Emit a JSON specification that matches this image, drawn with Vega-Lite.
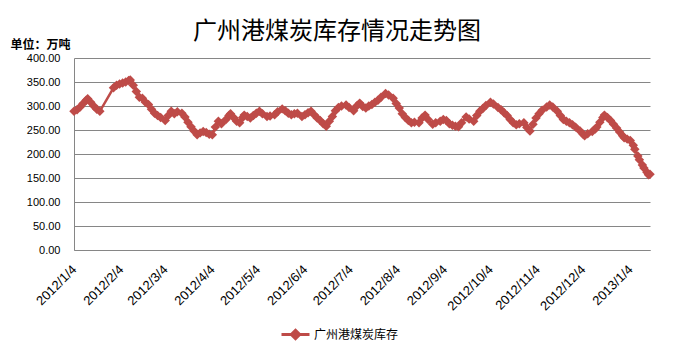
{
  "$schema": "https://vega.github.io/schema/vega-lite/v6.json",
  "autosize": {"type": "none"},
  "padding": {"left": 74, "top": 58, "right": 25, "bottom": 104},
  "width": 576,
  "height": 192,
  "background": "white",
  "title": {
    "text": "广州港煤炭库存情况走势图",
    "font": "Noto Sans CJK SC",
    "fontSize": 24,
    "fontWeight": "normal",
    "color": "black",
    "anchor": "middle",
    "frame": "group",
    "baseline": "middle",
    "offset": 8,
    "dx": -25,
    "dy": 26
  },
  "config": {
    "view": {"stroke": null},
    "axis": {
      "labelFont": "Liberation Sans",
      "labelFontSize": 11,
      "labelColor": "black",
      "domainColor": "#868686",
      "gridColor": "#868686",
      "ticks": false
    }
  },
  "data": {
    "values": [
      {"date": "2012/1/4", "v": 289}, {"date": "2012/1/6", "v": 292}, {"date": "2012/1/8", "v": 298}, {"date": "2012/1/10", "v": 305},
      {"date": "2012/1/12", "v": 312}, {"date": "2012/1/13", "v": 315}, {"date": "2012/1/15", "v": 308}, {"date": "2012/1/17", "v": 300},
      {"date": "2012/1/19", "v": 293}, {"date": "2012/1/21", "v": 289},
      {"date": "2012/1/30", "v": 338}, {"date": "2012/2/1", "v": 343}, {"date": "2012/2/3", "v": 346}, {"date": "2012/2/5", "v": 348},
      {"date": "2012/2/7", "v": 350}, {"date": "2012/2/9", "v": 353}, {"date": "2012/2/10", "v": 354}, {"date": "2012/2/12", "v": 343},
      {"date": "2012/2/14", "v": 330}, {"date": "2012/2/16", "v": 318}, {"date": "2012/2/18", "v": 316}, {"date": "2012/2/20", "v": 308},
      {"date": "2012/2/22", "v": 303}, {"date": "2012/2/24", "v": 293}, {"date": "2012/2/26", "v": 285}, {"date": "2012/2/28", "v": 280},
      {"date": "2012/3/1", "v": 276}, {"date": "2012/3/4", "v": 270}, {"date": "2012/3/6", "v": 280}, {"date": "2012/3/8", "v": 289},
      {"date": "2012/3/10", "v": 284}, {"date": "2012/3/12", "v": 288}, {"date": "2012/3/15", "v": 285}, {"date": "2012/3/17", "v": 277},
      {"date": "2012/3/19", "v": 266}, {"date": "2012/3/21", "v": 257}, {"date": "2012/3/23", "v": 248}, {"date": "2012/3/25", "v": 240},
      {"date": "2012/3/27", "v": 244}, {"date": "2012/3/29", "v": 247}, {"date": "2012/3/31", "v": 245}, {"date": "2012/4/2", "v": 241},
      {"date": "2012/4/4", "v": 240}, {"date": "2012/4/6", "v": 256}, {"date": "2012/4/8", "v": 268}, {"date": "2012/4/10", "v": 263},
      {"date": "2012/4/13", "v": 272}, {"date": "2012/4/15", "v": 280}, {"date": "2012/4/16", "v": 284}, {"date": "2012/4/18", "v": 276},
      {"date": "2012/4/20", "v": 268}, {"date": "2012/4/22", "v": 265}, {"date": "2012/4/24", "v": 276}, {"date": "2012/4/25", "v": 281},
      {"date": "2012/4/27", "v": 278}, {"date": "2012/4/29", "v": 275}, {"date": "2012/5/1", "v": 280}, {"date": "2012/5/3", "v": 285},
      {"date": "2012/5/5", "v": 289}, {"date": "2012/5/7", "v": 284}, {"date": "2012/5/10", "v": 278}, {"date": "2012/5/12", "v": 279},
      {"date": "2012/5/15", "v": 282}, {"date": "2012/5/17", "v": 288}, {"date": "2012/5/20", "v": 294}, {"date": "2012/5/22", "v": 290},
      {"date": "2012/5/24", "v": 285}, {"date": "2012/5/26", "v": 282}, {"date": "2012/5/28", "v": 284}, {"date": "2012/5/30", "v": 285},
      {"date": "2012/6/2", "v": 278}, {"date": "2012/6/4", "v": 282}, {"date": "2012/6/6", "v": 286}, {"date": "2012/6/8", "v": 289},
      {"date": "2012/6/10", "v": 282}, {"date": "2012/6/12", "v": 275}, {"date": "2012/6/14", "v": 270}, {"date": "2012/6/16", "v": 263},
      {"date": "2012/6/18", "v": 258}, {"date": "2012/6/20", "v": 268}, {"date": "2012/6/22", "v": 278}, {"date": "2012/6/24", "v": 290},
      {"date": "2012/6/26", "v": 297}, {"date": "2012/6/28", "v": 300}, {"date": "2012/7/1", "v": 302}, {"date": "2012/7/3", "v": 297},
      {"date": "2012/7/6", "v": 290}, {"date": "2012/7/8", "v": 300}, {"date": "2012/7/10", "v": 306}, {"date": "2012/7/12", "v": 299},
      {"date": "2012/7/14", "v": 296}, {"date": "2012/7/16", "v": 300}, {"date": "2012/7/18", "v": 303}, {"date": "2012/7/20", "v": 308},
      {"date": "2012/7/22", "v": 312}, {"date": "2012/7/24", "v": 318}, {"date": "2012/7/27", "v": 326}, {"date": "2012/7/29", "v": 323},
      {"date": "2012/8/1", "v": 316}, {"date": "2012/8/3", "v": 305}, {"date": "2012/8/5", "v": 296}, {"date": "2012/8/7", "v": 284},
      {"date": "2012/8/9", "v": 276}, {"date": "2012/8/11", "v": 270}, {"date": "2012/8/13", "v": 265}, {"date": "2012/8/15", "v": 266},
      {"date": "2012/8/18", "v": 265}, {"date": "2012/8/20", "v": 275}, {"date": "2012/8/22", "v": 281}, {"date": "2012/8/24", "v": 272},
      {"date": "2012/8/27", "v": 262}, {"date": "2012/8/29", "v": 265}, {"date": "2012/9/1", "v": 268}, {"date": "2012/9/3", "v": 272},
      {"date": "2012/9/5", "v": 270}, {"date": "2012/9/7", "v": 263}, {"date": "2012/9/9", "v": 260}, {"date": "2012/9/11", "v": 258},
      {"date": "2012/9/13", "v": 257}, {"date": "2012/9/15", "v": 265}, {"date": "2012/9/18", "v": 277}, {"date": "2012/9/20", "v": 273},
      {"date": "2012/9/23", "v": 268}, {"date": "2012/9/25", "v": 280}, {"date": "2012/9/27", "v": 289}, {"date": "2012/9/29", "v": 295},
      {"date": "2012/10/1", "v": 301}, {"date": "2012/10/4", "v": 308}, {"date": "2012/10/6", "v": 304}, {"date": "2012/10/9", "v": 297},
      {"date": "2012/10/11", "v": 292}, {"date": "2012/10/13", "v": 286}, {"date": "2012/10/15", "v": 280}, {"date": "2012/10/17", "v": 272},
      {"date": "2012/10/19", "v": 265}, {"date": "2012/10/21", "v": 261}, {"date": "2012/10/23", "v": 263}, {"date": "2012/10/26", "v": 265},
      {"date": "2012/10/28", "v": 255}, {"date": "2012/10/30", "v": 248}, {"date": "2012/11/1", "v": 262}, {"date": "2012/11/3", "v": 275},
      {"date": "2012/11/5", "v": 284}, {"date": "2012/11/7", "v": 291}, {"date": "2012/11/10", "v": 298}, {"date": "2012/11/12", "v": 302},
      {"date": "2012/11/14", "v": 298}, {"date": "2012/11/17", "v": 289}, {"date": "2012/11/19", "v": 280}, {"date": "2012/11/21", "v": 272},
      {"date": "2012/11/23", "v": 268}, {"date": "2012/11/25", "v": 265}, {"date": "2012/11/27", "v": 261}, {"date": "2012/11/29", "v": 256},
      {"date": "2012/12/2", "v": 248}, {"date": "2012/12/4", "v": 241}, {"date": "2012/12/5", "v": 238}, {"date": "2012/12/7", "v": 242},
      {"date": "2012/12/10", "v": 247}, {"date": "2012/12/12", "v": 252}, {"date": "2012/12/13", "v": 256}, {"date": "2012/12/15", "v": 266},
      {"date": "2012/12/17", "v": 276}, {"date": "2012/12/18", "v": 281}, {"date": "2012/12/20", "v": 276}, {"date": "2012/12/22", "v": 270},
      {"date": "2012/12/24", "v": 262}, {"date": "2012/12/26", "v": 254}, {"date": "2012/12/28", "v": 246}, {"date": "2012/12/30", "v": 238},
      {"date": "2012/12/31", "v": 234}, {"date": "2013/1/2", "v": 231}, {"date": "2013/1/4", "v": 228}, {"date": "2013/1/6", "v": 218},
      {"date": "2013/1/7", "v": 210}, {"date": "2013/1/9", "v": 196}, {"date": "2013/1/10", "v": 188}, {"date": "2013/1/12", "v": 177},
      {"date": "2013/1/13", "v": 171}, {"date": "2013/1/15", "v": 162}, {"date": "2013/1/16", "v": 157}, {"date": "2013/1/17", "v": 158}
    ]
  },
  "encoding": {
    "x": {
      "field": "date",
      "type": "temporal",
      "scale": {"domain": [{"year": 2012, "month": 1, "date": 4}, {"year": 2013, "month": 1, "date": 17}]},
      "axis": {
        "title": null,
        "grid": false,
        "format": "%Y/%-m/%-d",
        "labelAngle": -45,
        "labelAlign": "right",
        "labelBaseline": "middle",
        "labelFontSize": 13,
        "labelPadding": 17,
        "labelOverlap": false,
        "values": [
          {"year": 2012, "month": 1, "date": 4}, {"year": 2012, "month": 2, "date": 4}, {"year": 2012, "month": 3, "date": 4},
          {"year": 2012, "month": 4, "date": 4}, {"year": 2012, "month": 5, "date": 4}, {"year": 2012, "month": 6, "date": 4},
          {"year": 2012, "month": 7, "date": 4}, {"year": 2012, "month": 8, "date": 4}, {"year": 2012, "month": 9, "date": 4},
          {"year": 2012, "month": 10, "date": 4}, {"year": 2012, "month": 11, "date": 4}, {"year": 2012, "month": 12, "date": 4},
          {"year": 2013, "month": 1, "date": 4}
        ]
      }
    },
    "y": {
      "field": "v",
      "type": "quantitative",
      "scale": {"domain": [0, 400], "nice": false},
      "axis": {
        "values": [0, 50, 100, 150, 200, 250, 300, 350, 400],
        "format": ".2f",
        "labelPadding": 14,
        "title": "单位：万吨",
        "titleFont": "Noto Sans CJK SC",
        "titleFontSize": 12,
        "titleFontWeight": "bold",
        "titleColor": "black",
        "titleAngle": 0,
        "titleAlign": "left",
        "titleBaseline": "middle",
        "titleX": -64,
        "titleY": -14
      }
    }
  },
  "layer": [
    {
      "mark": {"type": "line", "strokeWidth": 2.5},
      "encoding": {
        "color": {
          "datum": "广州港煤炭库存",
          "scale": {"range": ["#BE4B48"]},
          "legend": {
            "title": null,
            "orient": "none",
            "legendX": 206,
            "legendY": 261,
            "symbolType": "M-1,0L1,0M0,-0.3L0.3,0L0,0.3L-0.3,0Z",
            "symbolSize": 784,
            "symbolStrokeWidth": 3,
            "symbolFillColor": "#BE4B48",
            "labelFont": "Noto Sans CJK SC",
            "labelFontSize": 12,
            "labelColor": "black",
            "labelOffset": 3
          }
        }
      }
    },
    {
      "mark": {"type": "point", "shape": "diamond", "filled": true, "size": 90, "color": "#BE4B48", "opacity": 1}
    }
  ]
}
